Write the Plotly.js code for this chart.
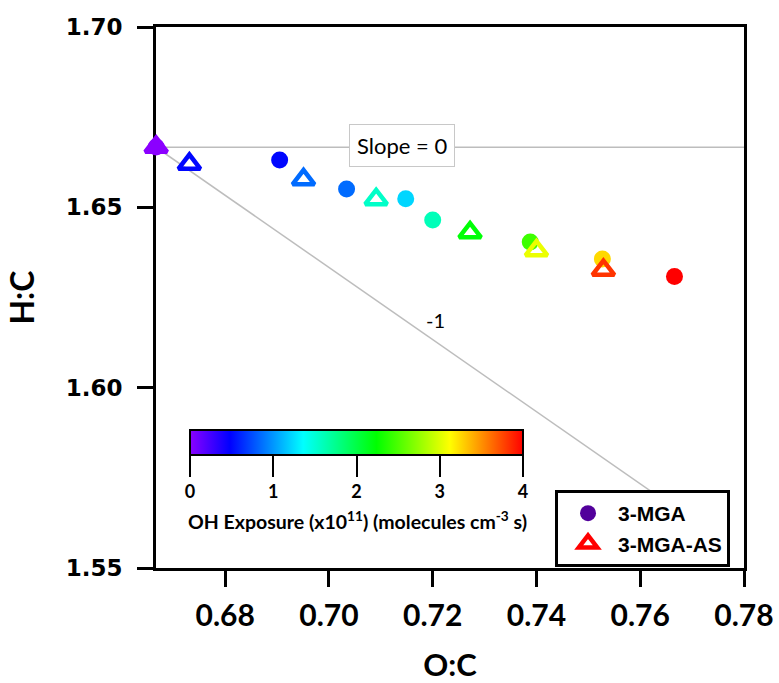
<!DOCTYPE html>
<html>
<head>
<meta charset="utf-8">
<script src="https://cdn.plot.ly/plotly-3.0.1.min.js"></script>
<style>
  html, body { margin: 0; padding: 0; background: #fff; }
  #chart { width: 779px; height: 683px; }
</style>
</head>
<body>
<div id="chart"></div>
<script>
// ---- Data ----
// 3-MGA (filled circles)
const mgaOC = [0.6667, 0.6905, 0.7034, 0.7148, 0.7200, 0.7388, 0.7527, 0.7666];
const mgaHC = [1.6667, 1.6631, 1.6551, 1.6524, 1.6465, 1.6404, 1.6357, 1.6308];
const mgaOH = [0.0, 0.5, 0.85, 1.22, 1.6, 2.45, 3.25, 4.0];

// 3-MGA-AS (open triangles)
const asOC = [0.6667, 0.6731, 0.6951, 0.7091, 0.7272, 0.7400, 0.7529];
const asHC = [1.6667, 1.6620, 1.6577, 1.6522, 1.6430, 1.6380, 1.6326];
const asOH = [0.0, 0.5, 0.85, 1.55, 2.22, 3.05, 3.82];

// reference slope lines through the unoxidised point
const refOrigin = [2 / 3, 5 / 3];
const slopeValues = [0, -1];
const slopeEndX = [0.78, 0.77];
const slopeLabels = ['Slope = 0', '-1'];

const colorbarTicks = [0, 1, 2, 3, 4];
const xTicks = [0.68, 0.70, 0.72, 0.74, 0.76, 0.78];
const yTicks = [1.55, 1.60, 1.65, 1.70];

const seriesNames = ['3-MGA', '3-MGA-AS'];
const legendColors = ['#52009B', '#FF0000'];

const rainbow = [
  [0.00, '#8B00FF'],
  [0.12, '#0000FF'],
  [0.34, '#00FFFF'],
  [0.56, '#00FF00'],
  [0.78, '#FFFF00'],
  [1.00, '#FF0000']
];

const lineTraces = slopeValues.map((s, i) => ({
  type: 'scatter', mode: 'lines',
  x: [refOrigin[0], slopeEndX[i]],
  y: [refOrigin[1], refOrigin[1] + s * (slopeEndX[i] - refOrigin[0])],
  line: { color: '#BDBDBD', width: 1.5 },
  hoverinfo: 'skip', showlegend: false
}));

const circleTrace = {
  type: 'scatter', mode: 'markers', name: seriesNames[0],
  x: mgaOC, y: mgaHC, cliponaxis: false, showlegend: false,
  marker: {
    symbol: 'circle', size: 17, color: mgaOH,
    colorscale: rainbow, cmin: 0, cmax: 4, showscale: true,
    line: { width: 0 },
    colorbar: {
      orientation: 'h',
      lenmode: 'pixels', len: 333,
      thickness: 25, thicknessmode: 'pixels',
      x: 0.341, xanchor: 'center', xref: 'paper',
      y: 0.2551, yanchor: 'top', yref: 'paper',
      xpad: 0, ypad: 0,
      outlinewidth: 2, outlinecolor: '#000',
      tickmode: 'array', tickvals: colorbarTicks, ticktext: colorbarTicks.map(String),
      ticks: 'outside', ticklen: 21, tickwidth: 2, tickcolor: '#000',
      tickfont: { family: 'Lato', size: 18, weight: 'bold', color: '#000' },
      bgcolor: 'rgba(0,0,0,0)', borderwidth: 0
    }
  }
};

const triangleTrace = {
  type: 'scatter', mode: 'markers', name: seriesNames[1],
  x: asOC, y: asHC, cliponaxis: false, showlegend: false,
  marker: {
    symbol: 'triangle-up-open', size: 19, color: asOH,
    colorscale: rainbow, cmin: 0, cmax: 4, showscale: false,
    line: { width: 4.5 }
  }
};

const legendTraces = [
  { type: 'scatter', mode: 'markers', name: seriesNames[0], x: [null], y: [null],
    marker: { symbol: 'circle', size: 17, color: legendColors[0] } },
  { type: 'scatter', mode: 'markers', name: seriesNames[1], x: [null], y: [null],
    marker: { symbol: 'triangle-up-open', size: 18, color: legendColors[1], line: { width: 4.5 } } }
];

const layout = {
  width: 779, height: 683,
  margin: { l: 156, r: 35, t: 27, b: 115, pad: 0 },
  paper_bgcolor: '#fff', plot_bgcolor: '#fff',
  showlegend: true,
  xaxis: {
    range: [2 / 3, 0.78], tickmode: 'array', tickvals: xTicks, tickformat: '.2f',
    showgrid: false, zeroline: false,
    showline: true, linecolor: '#000', linewidth: 3, mirror: true,
    ticks: 'outside', ticklen: 16, tickwidth: 3, tickcolor: '#000',
    ticklabelstandoff: 3,
    tickfont: { family: 'Lato', size: 30, weight: 'bold', color: '#000' },
    title: { text: 'O:C', font: { family: 'Lato', size: 31, weight: 'bold', color: '#000' }, standoff: 24 },
    layer: 'below traces'
  },
  yaxis: {
    range: [1.55, 1.70], tickmode: 'array', tickvals: yTicks, tickformat: '.2f',
    showgrid: false, zeroline: false,
    showline: true, linecolor: '#000', linewidth: 3, mirror: true,
    ticks: 'outside', ticklen: 16, tickwidth: 3, tickcolor: '#000',
    ticklabelstandoff: 10,
    tickfont: { family: 'DejaVu Sans', size: 23, weight: 'bold', color: '#000' },
    title: { text: 'H:C', font: { family: 'Lato', size: 32, weight: 'bold', color: '#000' }, standoff: 22 },
    layer: 'below traces'
  },
  legend: {
    x: 0.6786, y: 0.1442, xanchor: 'left', yanchor: 'top',
    bgcolor: '#fff', bordercolor: '#000', borderwidth: 3,
    font: { family: 'Liberation Sans', size: 21, weight: 'bold', color: '#000' },
    itemwidth: 50,
    tracegroupgap: 0
  },
  annotations: [
    { x: 0.714, y: 1.6672, xref: 'x', yref: 'y', text: slopeLabels[0], showarrow: false,
      font: { family: 'Lato', size: 22, color: '#000' },
      bgcolor: '#fff', bordercolor: '#C8C8C8', borderwidth: 1, borderpad: 7 },
    { x: 0.7205, y: 1.6188, xref: 'x', yref: 'y', text: slopeLabels[1], showarrow: false,
      font: { family: 'Lato', size: 20, color: '#000' } },
    { x: 0.3435, y: 0.087, xref: 'paper', yref: 'paper', xanchor: 'center', yanchor: 'middle',
      text: 'OH Exposure (x10<sup>11</sup>) (molecules cm<sup>-3</sup> s)', showarrow: false,
      font: { family: 'Lato', size: 19.5, weight: 'bold', color: '#000' } }
  ]
};

Plotly.newPlot('chart', [...lineTraces, circleTrace, triangleTrace, ...legendTraces], layout,
  { displayModeBar: false, responsive: false });
</script>
</body>
</html>
